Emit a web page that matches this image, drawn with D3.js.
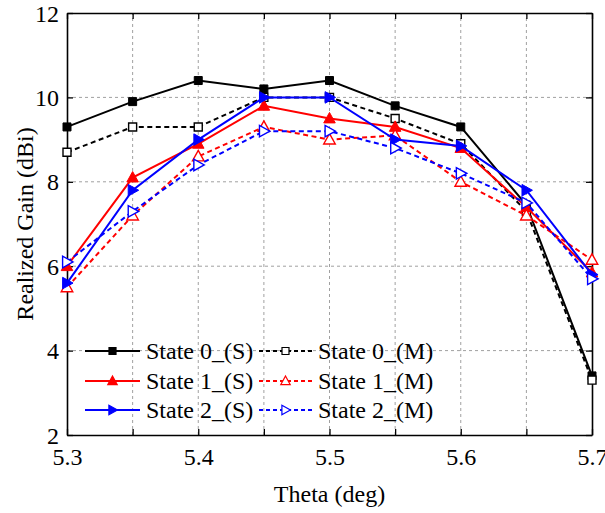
<!DOCTYPE html>
<html>
<head>
<meta charset="utf-8">
<script src="https://cdn.jsdelivr.net/npm/d3@7"></script>
<style>
  html, body { margin: 0; padding: 0; background: #fff; }
  svg { display: block; }
  svg text { font-family: "Liberation Serif", serif; fill: #000; }
</style>
</head>
<body>
<svg id="chart" width="605" height="513"></svg>
<script>
// Frequency sweep (x axis) and realized gain of each state
const theta = [5.3, 5.35, 5.4, 5.45, 5.5, 5.55, 5.6, 5.65, 5.7];
const state0S = [9.3, 9.9, 10.4, 10.2, 10.4, 9.8, 9.3, 7.45, 3.4];
const state0M = [8.7, 9.3, 9.3, 10.0, 10.0, 9.5, 8.9, 7.3, 3.3];
const state1S = [6.0, 8.1, 8.9, 9.8, 9.5, 9.3, 8.8, 7.4, 5.85];
const state1M = [5.5, 7.2, 8.6, 9.3, 9.0, 9.1, 8.0, 7.2, 6.15];
const state2S = [5.6, 7.8, 9.0, 10.0, 10.0, 9.0, 8.85, 7.8, 5.8];
const state2M = [6.1, 7.3, 8.4, 9.2, 9.2, 8.8, 8.2, 7.5, 5.7];

const xTicks = [5.3, 5.4, 5.5, 5.6, 5.7];
const xMinorTicks = [5.35, 5.45, 5.55, 5.65];
const yTicks = [2, 4, 6, 8, 10, 12];

const seriesNames = ["State 0_(S)", "State 0_(M)", "State 1_(S)", "State 1_(M)", "State 2_(S)", "State 2_(M)"];
const seriesValues = [state0S, state0M, state1S, state1M, state2S, state2M];
const seriesColors = ["#000000", "#000000", "#ff0000", "#ff0000", "#0000ff", "#0000ff"];
const seriesDashed = [false, true, false, true, false, true];
const seriesMarkers = ["square", "square", "triangleUp", "triangleUp", "triangleRight", "triangleRight"];

const FONT = "Liberation Serif";
const FS = 24;
const svg = d3.select("#chart");
const margin = { left: 67, right: 13, top: 13, bottom: 78 };
const W = 605, H = 513;

const x = d3.scaleLinear().domain([5.3, 5.7]).range([margin.left, W - margin.right]);
const y = d3.scaleLinear().domain([2, 12]).range([H - margin.bottom, margin.top]);

// grid
const grid = svg.append("g").attr("stroke", "#a0a0a0").attr("stroke-width", 1).attr("stroke-dasharray", "3,3");
theta.slice(1, -1).forEach(v => {
  grid.append("line").attr("x1", x(v)).attr("x2", x(v)).attr("y1", y(2)).attr("y2", y(12));
});
yTicks.slice(1, -1).forEach(v => {
  grid.append("line").attr("x1", x(5.3)).attr("x2", x(5.7)).attr("y1", y(v)).attr("y2", y(v));
});

// axes with inward ticks
const tickLen = 6;
const fmtX = d3.format(".1f");
const axB = svg.append("g").attr("transform", `translate(0,${y(2)})`)
  .call(d3.axisBottom(x).tickValues(xTicks.concat(xMinorTicks)).tickSizeInner(-tickLen).tickSizeOuter(0)
    .tickFormat(d => xTicks.includes(d) ? fmtX(d) : ""));
const axT = svg.append("g").attr("transform", `translate(0,${y(12)})`)
  .call(d3.axisTop(x).tickValues(xTicks.concat(xMinorTicks)).tickSizeInner(-tickLen).tickSizeOuter(0).tickFormat(""));
const axL = svg.append("g").attr("transform", `translate(${x(5.3)},0)`)
  .call(d3.axisLeft(y).tickValues(yTicks).tickSizeInner(-tickLen).tickSizeOuter(0).tickFormat(d3.format("d")));
const axR = svg.append("g").attr("transform", `translate(${x(5.7)},0)`)
  .call(d3.axisRight(y).tickValues(yTicks).tickSizeInner(-tickLen).tickSizeOuter(0).tickFormat(""));

[axB, axT, axL, axR].forEach(a => {
  a.attr("font-family", FONT).attr("font-size", FS);
  a.select(".domain").attr("stroke", "#000").attr("stroke-width", 1.6);
  a.selectAll(".tick line").attr("stroke", "#000").attr("stroke-width", 1.3);
  a.selectAll(".tick text").attr("fill", "#000");
});
axB.selectAll(".tick text").attr("dy", null).attr("y", 30);
axL.selectAll(".tick text").attr("x", -8).attr("dy", "0.34em");

// axis titles
svg.append("text").attr("x", x(5.5)).attr("y", 502).attr("text-anchor", "middle")
  .attr("font-family", FONT).attr("font-size", FS).text("Theta (deg)");
svg.append("text").attr("transform", `translate(33,${y(7)}) rotate(-90)`).attr("text-anchor", "middle")
  .attr("font-family", FONT).attr("font-size", FS).text("Realized Gain (dBi)");

// markers
function markerPath(type, size) {
  const s = size / 2;
  if (type === "square") return `M${-s},${-s}H${s}V${s}H${-s}Z`;
  if (type === "triangleUp") return `M0,${-s * 1.1}L${s * 1.05},${s * 0.8}L${-s * 1.05},${s * 0.8}Z`;
  return `M${s * 1.1},0L${-s * 0.8},${s * 1.05}L${-s * 0.8},${-s * 1.05}Z`;
}
function markerSize(type) {
  return type === "square" ? 8 : 11;
}

const line = d3.line().x((d, i) => x(theta[i])).y(d => y(d));
const plot = svg.append("g");
seriesValues.forEach((vals, k) => {
  const g = plot.append("g");
  g.append("path").datum(vals).attr("d", line).attr("fill", "none")
    .attr("stroke", seriesColors[k]).attr("stroke-width", 2)
    .attr("stroke-dasharray", seriesDashed[k] ? "5,3.5" : null);
  g.selectAll("path.m").data(vals).join("path").attr("class", "m")
    .attr("transform", (d, i) => `translate(${x(theta[i])},${y(d)})`)
    .attr("d", markerPath(seriesMarkers[k], markerSize(seriesMarkers[k])))
    .attr("fill", seriesDashed[k] ? "#fff" : seriesColors[k])
    .attr("stroke", seriesColors[k]).attr("stroke-width", seriesDashed[k] ? 1.4 : 1);
});

// legend
const legend = svg.append("g");
const rowY = [351, 381, 410];
const colX = [{ x1: 85, x2: 140, tx: 146 }, { x1: 259, x2: 312, tx: 318 }];
seriesNames.forEach((name, k) => {
  const row = Math.floor(k / 2), col = k % 2;
  const c = colX[col], yy = rowY[row];
  legend.append("line").attr("x1", c.x1).attr("x2", c.x2).attr("y1", yy).attr("y2", yy)
    .attr("stroke", seriesColors[k]).attr("stroke-width", 2)
    .attr("stroke-dasharray", seriesDashed[k] ? "4,3" : null);
  legend.append("path").attr("transform", `translate(${(c.x1 + c.x2) / 2},${yy})`)
    .attr("d", markerPath(seriesMarkers[k], seriesMarkers[k] === "square" ? 7 : 9))
    .attr("fill", seriesDashed[k] ? "#fff" : seriesColors[k])
    .attr("stroke", seriesColors[k]).attr("stroke-width", 1.2);
  legend.append("text").attr("x", c.tx).attr("y", yy).attr("dy", "0.35em")
    .attr("font-family", FONT).attr("font-size", FS).text(name);
});
</script>
</body>
</html>
